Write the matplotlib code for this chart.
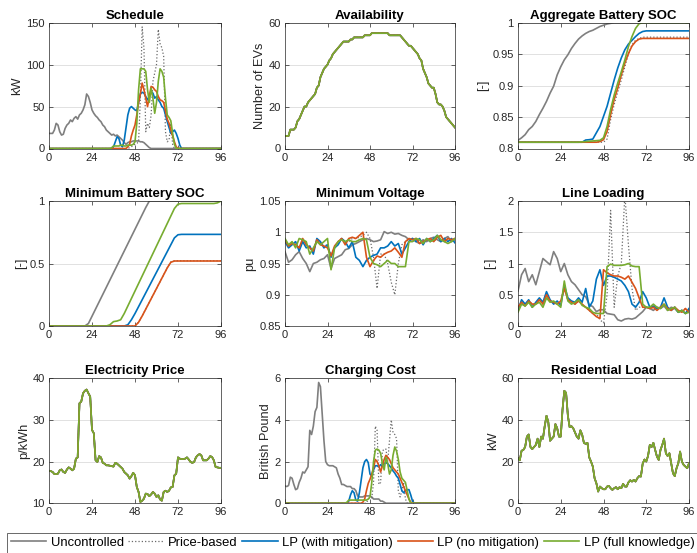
import numpy as np
import matplotlib
matplotlib.use("Agg")
import matplotlib.pyplot as plt

# ------------------------------------------------------------
# Data (15-min steps, 0..96)
# ------------------------------------------------------------
t1 = np.arange(97)          # hourly-quarter resolution
t2 = np.arange(0, 97, 2)    # coarser series

series_names = ['Uncontrolled', 'Price-based', 'LP (with mitigation)',
                'LP (no mitigation)', 'LP (full knowledge)']

# Schedule [kW]
sched_unc = [18, 18, 18, 22, 30, 28, 20, 16, 17, 24,
             28, 30, 34, 32, 36, 38, 35, 40, 42, 46,
             52, 65, 62, 55, 46, 42, 39, 37, 34, 32,
             28, 26, 22, 20, 18, 16, 17, 15, 16, 14,
             12, 10, 7, 5, 7, 8, 8, 9, 9, 9,
             9, 8, 8, 7, 5, 3, 1, 0, 0, 0] + [0] * 37
sched_price = [0] * 45 + [1, 2, 4, 5, 6, 8, 60, 145, 120, 20,
                          30, 25, 40, 80, 90, 100, 142, 125, 120, 110,
                          20, 8, 10, 30, 5, 0, 0, 0, 0, 0] + [0] * 22
sched_mit = [0] * 35 + [0, 2, 8, 14, 12, 4, 2, 10, 25, 40,
                        48, 50, 48, 46, 45, 55, 65, 67, 66, 62,
                        58, 62, 68, 66, 60, 62, 58, 55, 50, 48,
                        40, 32, 25, 18, 20, 22, 18, 12, 4, 0] + [0] * 22
sched_nomit = [0] * 44 + [2, 5, 15, 22, 28, 40, 55, 65, 78, 70,
                          60, 50, 62, 74, 73, 70, 68, 62, 58, 57,
                          55, 45, 35, 30, 22, 15, 8, 2, 0, 0] + [0] * 23
sched_full = [0] * 35 + [1, 3, 3, 3, 3, 4, 4, 3, 3, 4,
                         4, 4, 5, 8, 30, 70, 95, 95, 95, 92,
                         70, 55, 72, 60, 42, 55, 80, 95, 92, 85,
                         60, 40, 37, 33, 18, 5, 0, 0, 0, 0] + [0] * 22

# Availability [number of EVs]
availability = [6, 6, 6, 9, 9, 9, 10, 13, 14, 16,
                18, 20, 20, 22, 23, 24, 25, 26, 29, 30,
                34, 36, 38, 39, 40, 42, 43, 45, 46, 47,
                48, 49, 50, 51, 51, 51, 51, 52, 52, 53,
                53, 53, 53, 53, 53, 54, 54, 54, 54, 55,
                55, 55, 55, 55, 55, 55, 55, 55, 55, 54,
                54, 54, 54, 54, 54, 54, 53, 52, 51, 50,
                49, 49, 48, 47, 46, 45, 43, 42, 38, 36,
                34, 31, 30, 29, 29, 26, 22, 21, 21, 20,
                18, 15, 14, 13, 12, 11, 10]

# Aggregate battery SOC [-] (every 2 steps)
agg_unc = [0.813, 0.817, 0.822, 0.830, 0.835, 0.843, 0.854, 0.864, 0.875, 0.888,
           0.899, 0.917, 0.930, 0.941, 0.949, 0.959, 0.967, 0.974, 0.979, 0.983,
           0.986, 0.988, 0.991, 0.994, 0.996, 0.998, 0.999, 1.0] + [1.0] * 21
agg_price = [0.81] * 25 + [0.815, 0.846, 0.870, 0.890, 0.909, 0.930, 0.950,
                           0.965, 0.972, 0.975, 0.977] + [0.977] * 13
agg_mit = [0.81] * 19 + [0.8135, 0.814, 0.815, 0.825, 0.835, 0.851, 0.867, 0.888,
                         0.909, 0.928, 0.944, 0.957, 0.966, 0.972, 0.978, 0.983,
                         0.986, 0.987] + [0.987] * 12
agg_nomit = [0.81] * 23 + [0.811, 0.814, 0.827, 0.854, 0.878, 0.896, 0.917,
                           0.936, 0.951, 0.963, 0.970, 0.974, 0.975] + [0.975] * 13
agg_full = [0.81] * 18 + [0.8105, 0.811, 0.8115, 0.812, 0.8125, 0.813, 0.817,
                          0.835, 0.862, 0.885, 0.904, 0.922, 0.941, 0.962,
                          0.978, 0.991, 0.9985, 1.0] + [1.0] * 13

# Minimum battery SOC [-] (every 2 steps)
min_unc = [0.0] * 11 + [0.02, 0.078, 0.136, 0.194, 0.252, 0.31, 0.368, 0.426, 0.484,
                        0.542, 0.6, 0.658, 0.716, 0.774, 0.832, 0.89, 0.948, 1.0] + [1.0] * 20
min_price = [0.0] * 25 + [0.03, 0.08, 0.135, 0.19, 0.245, 0.3, 0.355, 0.41,
                          0.465, 0.512, 0.522] + [0.522] * 13
min_mit = [0.0] * 22 + [0.01, 0.05, 0.1, 0.155, 0.21, 0.265, 0.32, 0.375, 0.43,
                        0.485, 0.54, 0.595, 0.65, 0.705, 0.73] + [0.733] * 12
min_nomit = [0.0] * 25 + [0.03, 0.08, 0.135, 0.19, 0.245, 0.3, 0.355, 0.41,
                          0.465, 0.51, 0.52] + [0.52] * 13
min_full = [0.0] * 17 + [0.01, 0.035, 0.04, 0.05, 0.1, 0.16, 0.22, 0.28, 0.34, 0.4,
                         0.46, 0.52, 0.58, 0.64, 0.7, 0.76, 0.82, 0.88, 0.94, 0.975] \
    + [0.98] * 10 + [0.985, 1.0]

# Minimum voltage [pu] (every 2 steps)
volt_unc = [0.969, 0.952, 0.956, 0.964, 0.969, 0.958, 0.950, 0.937, 0.950, 0.952,
            0.956, 0.958, 0.964, 0.942, 0.958, 0.961, 0.964, 0.972, 0.974, 0.980,
            0.982, 0.985, 0.988, 0.990, 0.988, 0.985, 0.986, 0.988, 1.001, 0.998,
            1.000, 0.997, 0.998, 0.995, 0.993, 0.988, 0.990, 0.985, 0.982, 0.988,
            0.985, 0.990, 0.992, 0.988, 0.985, 0.990, 0.993, 0.985, 0.988]
volt_price = [0.985, 0.978, 0.980, 0.982, 0.975, 0.988, 0.980, 0.975, 0.970, 0.988,
              0.982, 0.978, 0.980, 0.962, 0.976, 0.985, 0.990, 0.985, 0.985, 0.990,
              0.990, 0.992, 0.995, 1.000, 0.990, 0.960, 0.910, 0.965, 0.965, 0.950,
              0.920, 0.900, 0.950, 0.980, 0.985, 0.988, 0.985, 0.990, 0.985, 0.985,
              0.988, 0.990, 0.985, 0.992, 0.990, 0.985, 0.990, 0.985, 0.990]
volt_mit = [0.985, 0.975, 0.980, 0.985, 0.970, 0.985, 0.975, 0.978, 0.965, 0.990,
            0.985, 0.975, 0.980, 0.960, 0.975, 0.980, 0.990, 0.985, 0.975, 0.985,
            0.960, 0.955, 0.945, 0.955, 0.960, 0.963, 0.965, 0.975, 0.975, 0.978,
            0.985, 0.978, 0.982, 0.965, 0.975, 0.985, 0.990, 0.985, 0.990, 0.980,
            0.990, 0.985, 0.990, 0.995, 0.985, 0.990, 0.985, 0.990, 0.983]
volt_nomit = [0.988, 0.978, 0.982, 0.980, 0.975, 0.990, 0.980, 0.975, 0.970, 0.988,
              0.980, 0.978, 0.975, 0.962, 0.978, 0.985, 0.990, 0.980, 0.990, 0.992,
              0.990, 0.995, 1.000, 0.960, 0.945, 0.955, 0.962, 0.960, 0.965, 0.968,
              0.970, 0.975, 0.968, 0.960, 0.985, 0.990, 0.988, 0.990, 0.982, 0.985,
              0.988, 0.990, 0.985, 0.992, 0.995, 0.985, 0.990, 0.988, 0.990]
volt_full = [0.990, 0.980, 0.985, 0.975, 0.990, 0.988, 0.985, 0.965, 0.975, 0.985,
             0.980, 0.985, 0.990, 0.940, 0.975, 0.985, 0.988, 0.985, 0.988, 0.985,
             0.985, 0.988, 0.990, 0.988, 0.960, 0.950, 0.948, 0.945, 0.950, 0.955,
             0.950, 0.950, 0.945, 0.945, 0.945, 0.985, 0.985, 0.990, 0.988, 0.982,
             0.990, 0.985, 0.988, 0.995, 0.988, 0.985, 0.982, 0.985, 0.990]

# Line loading [-] (every 2 steps)
load_unc = [0.56, 0.82, 0.92, 0.71, 0.82, 0.66, 0.87, 1.08, 1.03, 0.98,
            1.19, 1.08, 0.87, 1.00, 0.82, 0.71, 0.66, 0.58, 0.50, 0.47,
            0.34, 0.31, 0.23, 0.26, 0.26, 0.20, 0.19, 0.18, 0.10, 0.08,
            0.11, 0.12, 0.11, 0.13, 0.18, 0.23, 0.30, 0.28, 0.25, 0.30,
            0.28, 0.32, 0.25, 0.30, 0.28, 0.22, 0.25, 0.20, 0.25]
load_price = [0.30, 0.38, 0.32, 0.40, 0.35, 0.35, 0.42, 0.35, 0.50, 0.40,
              0.38, 0.35, 0.40, 0.60, 0.42, 0.38, 0.35, 0.40, 0.35, 0.30,
              0.25, 0.20, 0.20, 0.10, 0.05, 0.50, 1.85, 0.30, 0.80, 1.00,
              2.10, 1.30, 0.60, 0.25, 0.30, 0.30, 0.30, 0.28, 0.30, 0.25,
              0.30, 0.35, 0.28, 0.25, 0.30, 0.25, 0.22, 0.28, 0.22]
load_mit = [0.25, 0.42, 0.35, 0.42, 0.30, 0.38, 0.45, 0.38, 0.55, 0.42,
            0.35, 0.40, 0.33, 0.65, 0.45, 0.40, 0.38, 0.45, 0.38, 0.60,
            0.30, 0.40, 0.75, 0.90, 0.65, 0.80, 0.80, 0.78, 0.75, 0.72,
            0.65, 0.55, 0.35, 0.30, 0.38, 0.55, 0.45, 0.30, 0.32, 0.28,
            0.30, 0.45, 0.30, 0.25, 0.30, 0.22, 0.25, 0.20, 0.28]
load_nomit = [0.30, 0.38, 0.32, 0.40, 0.35, 0.35, 0.42, 0.35, 0.50, 0.40,
              0.38, 0.35, 0.40, 0.60, 0.42, 0.38, 0.35, 0.40, 0.35, 0.30,
              0.25, 0.20, 0.15, 0.12, 0.90, 0.85, 0.82, 0.80, 0.80, 0.78,
              0.75, 0.80, 0.70, 0.60, 0.45, 0.30, 0.30, 0.28, 0.30, 0.25,
              0.30, 0.35, 0.28, 0.25, 0.30, 0.25, 0.22, 0.28, 0.22]
load_full = [0.22, 0.35, 0.32, 0.38, 0.30, 0.35, 0.38, 0.30, 0.45, 0.38,
             0.40, 0.35, 0.30, 0.72, 0.40, 0.35, 0.38, 0.42, 0.33, 0.30,
             0.28, 0.22, 0.20, 0.20, 0.20, 0.95, 0.99, 0.97, 0.97, 0.97,
             0.98, 1.00, 0.96, 0.95, 0.95, 0.35, 0.30, 0.30, 0.35, 0.30,
             0.28, 0.35, 0.25, 0.28, 0.30, 0.22, 0.25, 0.20, 0.22]

# Electricity price [p/kWh]
price = [17.8, 17.7, 17.5, 17.0, 17.0, 17.1, 17.9, 18.1, 17.5, 17.3,
         18.1, 18.6, 18.3, 17.9, 18.3, 20.7, 21.0, 34.0, 34.4, 36.4,
         37.0, 37.3, 36.4, 35.6, 27.6, 26.8, 20.3, 19.9, 21.3, 21.0,
         19.7, 19.5, 19.1, 19.1, 19.0, 18.9, 18.8, 19.7, 19.5, 19.1,
         18.7, 18.3, 17.5, 17.1, 16.7, 15.9, 16.5, 17.3, 16.7, 13.9,
         12.7, 10.3, 10.6, 11.1, 12.3, 12.2, 11.7, 12.1, 12.7, 12.3,
         11.5, 11.9, 10.9, 10.6, 12.7, 13.0, 12.7, 13.0, 13.8, 13.9,
         16.7, 17.1, 21.0, 20.7, 20.6, 20.6, 20.7, 21.0, 20.5, 19.9,
         19.7, 19.9, 21.0, 21.5, 21.8, 21.5, 20.3, 20.3, 20.3, 20.7,
         21.3, 21.1, 20.3, 18.7, 18.6, 18.5, 18.5]

# Charging cost [British Pound]
cost_unc = [0.83, 0.80, 0.85, 1.25, 1.20, 0.90, 0.65, 0.70, 1.00, 1.20,
            1.50, 1.45, 1.60, 1.75, 3.50, 3.30, 3.70, 4.40, 4.60, 5.80,
            5.60, 4.30, 3.00, 2.00, 1.85, 1.80, 1.80, 1.80, 1.75, 1.70,
            1.40, 1.20, 0.90, 0.90, 0.85, 0.80, 0.80, 0.80, 0.70, 0.70,
            0.60, 0.35, 0.30, 0.30, 0.30, 0.35, 0.35, 0.35, 0.35, 0.30,
            0.20, 0.20, 0.20, 0.20, 0.10, 0.10, 0.05, 0, 0, 0] + [0] * 37
cost_price = [0] * 47 + [0.2, 0.25, 0.25, 1.0, 3.7, 3.5, 0.9, 1.0, 2.5, 2.6,
                         2.6, 2.0, 3.0, 4.0, 3.4, 3.3, 3.1, 0.6, 0.3, 0.6,
                         1.0, 0.2, 0, 0, 0, 0, 0, 0, 0, 0] + [0] * 20
cost_mit = [0] * 36 + [0.1, 0.4, 0.6, 0.5, 0.15, 0.1, 0.5, 1.1, 1.7, 2.0,
                       2.1, 1.95, 1.4, 1.3, 1.6, 1.8, 1.8, 1.75, 1.85, 1.8,
                       1.9, 1.95, 1.9, 1.8, 1.7, 1.55, 1.45, 1.3, 1.2, 0.9,
                       0.6, 0.5, 0.6, 0.65, 0.65, 0.4, 0.1, 0, 0, 0] + [0] * 21
cost_nomit = [0] * 44 + [0.05, 0.2, 0.6, 0.95, 1.15, 1.4, 1.7, 2.1, 2.0, 1.8,
                         1.5, 1.8, 2.1, 2.3, 2.2, 2.1, 1.9, 1.7, 1.6, 1.5,
                         1.4, 1.2, 1.0, 0.8, 0.6, 0.4, 0.2, 0.05, 0, 0] + [0] * 23
cost_full = [0] * 35 + [0.05, 0.15, 0.15, 0.15, 0.15, 0.15, 0.15, 0.15, 0.15, 0.15,
                        0.15, 0.15, 0.2, 0.3, 1.0, 2.0, 2.55, 2.6, 2.55, 2.4,
                        1.9, 1.6, 2.2, 1.9, 1.4, 1.6, 2.3, 2.7, 2.5, 2.1,
                        1.5, 1.2, 1.1, 1.0, 0.6, 0.2, 0, 0, 0, 0] + [0] * 22

# Residential load [kW]
res_load = [21.6, 20.6, 25.2, 25.6, 27, 32, 33, 27, 26, 27,
            28, 31, 27, 32, 31, 37, 42, 39, 30, 31,
            32, 38, 36, 32, 32, 45, 54, 53, 42, 36.5,
            37, 36, 34, 32, 31, 35, 33, 29, 28.5, 29,
            22, 20, 17.6, 12, 9.6, 5.6, 8, 7.2, 6.7, 6.7,
            8, 8.3, 7.2, 6.4, 7.2, 7.7, 6.7, 7.7, 7.2, 9.3,
            8, 8, 10, 11, 10.4, 11.2, 10.4, 12, 13, 12.8,
            19, 21, 20, 22.7, 28, 27, 29, 25.6, 22.4, 20.8,
            25.6, 28, 31, 24, 22.7, 24, 19.2, 14.4, 13, 16.8,
            19.2, 24.8, 20, 18.4, 17.6, 16.8, 19.2]

# ------------------------------------------------------------
# Styling (MATLAB look)
# ------------------------------------------------------------
plt.rcParams.update({
    'font.family': ['Liberation Sans', 'DejaVu Sans'],
    'font.size': 8,
    'axes.edgecolor': '#262626',
    'axes.linewidth': 0.5,
    'xtick.color': '#262626',
    'ytick.color': '#262626',
    'xtick.labelsize': 8,
    'ytick.labelsize': 8,
    'xtick.direction': 'in',
    'ytick.direction': 'in',
    'xtick.major.size': 3,
    'ytick.major.size': 3,
    'xtick.major.width': 0.5,
    'ytick.major.width': 0.5,
    'xtick.major.pad': 3,
    'ytick.major.pad': 3,
})

c_unc = '#7f7f7f'
c_price = '#6a6a6a'
c_mit = '#0072BD'
c_nomit = '#D95319'
c_full = '#77AC30'
LW = 1.2


def plot_five(ax, x, s_unc, s_price, s_mit, s_nomit, s_full):
    ax.plot(x, s_unc, color=c_unc, lw=LW)
    ax.plot(x, s_price, color=c_price, lw=0.9, ls=':')
    ax.plot(x, s_mit, color=c_mit, lw=LW)
    ax.plot(x, s_nomit, color=c_nomit, lw=LW)
    ax.plot(x, s_full, color=c_full, lw=LW)


def style(ax, title, ylabel, ylim, yticks, yticklabels):
    ax.set_title(title, fontsize=9.5, fontweight='bold', pad=3)
    ax.set_ylabel(ylabel, fontsize=9.2, color='#262626', labelpad=2)
    ax.set_xlim(0, 96)
    ax.set_xticks([0, 24, 48, 72, 96])
    ax.set_ylim(*ylim)
    ax.set_yticks(yticks)
    ax.set_yticklabels(yticklabels)
    ax.tick_params(top=True, right=True)
    ax.yaxis.grid(True, color='#dcdcdc', lw=0.6)
    ax.set_axisbelow(True)


fig = plt.figure(figsize=(6.97, 5.53), dpi=100)
W, H = 697.0, 553.0
col_px = [(49, 172), (285, 170), (518, 171)]
row_px = [(22.7, 125.8), (201, 125), (378.3, 124.9)]

axes = []
for top, h in row_px:
    row = []
    for left, w in col_px:
        row.append(fig.add_axes([left / W, 1 - (top + h) / H, w / W, h / H]))
    axes.append(row)

# Schedule
ax = axes[0][0]
plot_five(ax, t1, sched_unc, sched_price, sched_mit, sched_nomit, sched_full)
style(ax, 'Schedule', 'kW', (0, 150), [0, 50, 100, 150], ['0', '50', '100', '150'])

# Availability (same for all methods)
ax = axes[0][1]
plot_five(ax, t1, availability, availability, availability, availability, availability)
style(ax, 'Availability', 'Number of EVs', (0, 60), [0, 20, 40, 60], ['0', '20', '40', '60'])

# Aggregate SOC
ax = axes[0][2]
plot_five(ax, t2, agg_unc, agg_price, agg_mit, agg_nomit, agg_full)
style(ax, 'Aggregate Battery SOC', '[-]', (0.8, 1.0), [0.8, 0.85, 0.9, 0.95, 1.0],
      ['0.8', '0.85', '0.9', '0.95', '1'])

# Minimum SOC
ax = axes[1][0]
plot_five(ax, t2, min_unc, min_price, min_mit, min_nomit, min_full)
style(ax, 'Minimum Battery SOC', '[-]', (0, 1), [0, 0.5, 1], ['0', '0.5', '1'])

# Minimum voltage
ax = axes[1][1]
plot_five(ax, t2, volt_unc, volt_price, volt_mit, volt_nomit, volt_full)
style(ax, 'Minimum Voltage', 'pu', (0.85, 1.05), [0.85, 0.9, 0.95, 1.0, 1.05],
      ['0.85', '0.9', '0.95', '1', '1.05'])

# Line loading
ax = axes[1][2]
plot_five(ax, t2, load_unc, load_price, load_mit, load_nomit, load_full)
style(ax, 'Line Loading', '[-]', (0, 2), [0, 0.5, 1, 1.5, 2], ['0', '0.5', '1', '1.5', '2'])

# Electricity price
ax = axes[2][0]
plot_five(ax, t1, price, price, price, price, price)
style(ax, 'Electricity Price', 'p/kWh', (10, 40), [10, 20, 30, 40], ['10', '20', '30', '40'])

# Charging cost
ax = axes[2][1]
plot_five(ax, t1, cost_unc, cost_price, cost_mit, cost_nomit, cost_full)
style(ax, 'Charging Cost', 'British Pound', (0, 6), [0, 2, 4, 6], ['0', '2', '4', '6'])

# Residential load
ax = axes[2][2]
plot_five(ax, t1, res_load, res_load, res_load, res_load, res_load)
style(ax, 'Residential Load', 'kW', (0, 60), [0, 20, 40, 60], ['0', '20', '40', '60'])

# Legend along the bottom
handles = axes[0][0].get_lines()
leg = fig.legend(handles, series_names, loc='upper left',
                 bbox_to_anchor=(7 / W, 1 - 533 / H), ncol=5, fontsize=9.4,
                 frameon=True, fancybox=False, edgecolor='#262626',
                 handlelength=2.7, handletextpad=0.35, columnspacing=0.35,
                 borderpad=0.3, borderaxespad=0)
leg.get_frame().set_linewidth(0.6)

fig.savefig('out.png', dpi=100)
